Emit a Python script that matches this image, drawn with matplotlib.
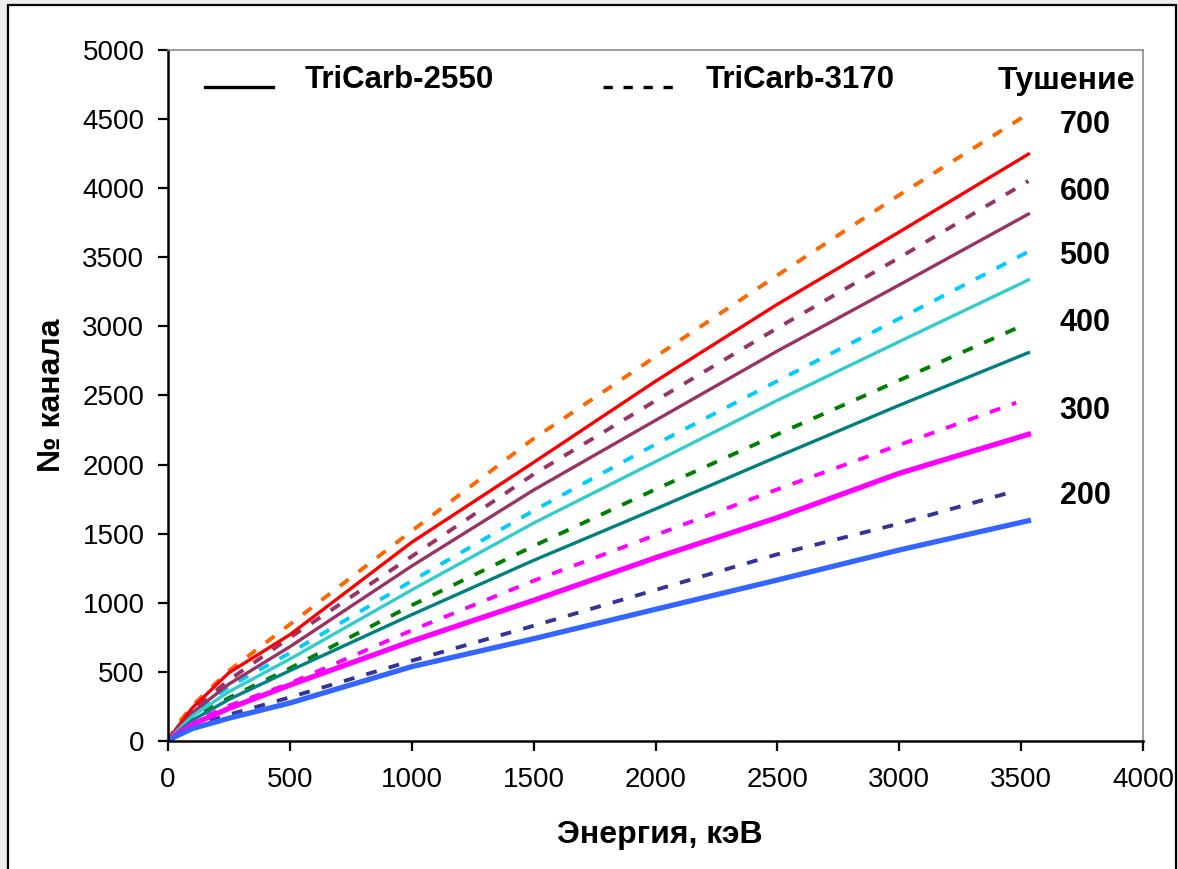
import matplotlib
matplotlib.use('Agg')
import matplotlib.pyplot as plt
from matplotlib.patches import Rectangle
from matplotlib.lines import Line2D

plt.rcParams['font.family'] = ['Liberation Sans', 'DejaVu Sans']

# energy points (keV)
energy = [0, 30, 100, 250, 500, 1000, 1500, 2000, 2500, 3000, 3530]
energy_short = [0, 30, 100, 250, 500, 1000, 1500, 2000, 2500, 3000, 3480]

# TriCarb-2550 (solid)
tc2550_700 = [0, 80, 240, 494, 769, 1438, 2016, 2603, 3160, 3683, 4247]
tc2550_600 = [0, 65, 205, 412, 682, 1266, 1816, 2320, 2822, 3300, 3813]
tc2550_500 = [0, 60, 180, 357, 593, 1093, 1577, 2021, 2465, 2890, 3336]
tc2550_400 = [0, 50, 150, 301, 509, 914, 1307, 1679, 2057, 2429, 2810]
tc2550_300 = [0, 42, 120, 236, 405, 723, 1018, 1326, 1616, 1937, 2219]
tc2550_200 = [0, 32, 90, 165, 275, 538, 740, 953, 1165, 1382, 1594]

# TriCarb-3170 (dashed)
tc3170_700 = [0, 100, 256, 509, 844, 1520, 2188, 2781, 3370, 3951, 4540]
tc3170_600 = [0, 75, 224, 441, 748, 1336, 1930, 2462, 2988, 3497, 4052]
tc3170_500 = [0, 70, 205, 393, 637, 1158, 1667, 2147, 2605, 3056, 3541]
tc3170_400 = [0, 55, 165, 313, 526, 982, 1411, 1821, 2219, 2610, 2986]
tc3170_300 = [0, 48, 135, 255, 417, 801, 1160, 1490, 1821, 2142, 2448]
tc3170_200 = [0, 38, 105, 190, 316, 581, 834, 1093, 1351, 1573, 1811]

quench_labels = ['700', '600', '500', '400', '300', '200']
label_y = [4457, 3972, 3509, 3025, 2388, 1773]

fig = plt.figure(figsize=(11.78, 8.69), dpi=100, facecolor='#ededed')
frame = Rectangle((8/1178, -0.05), (1176-8)/1178, 1.05 - 5/869,
                  transform=fig.transFigure, facecolor='white',
                  edgecolor='black', linewidth=1.6, zorder=-10)
fig.patches.append(frame)

ax = fig.add_axes([168/1178, 1-741/869, 975/1178, 691/869])
ax.set_facecolor('white')

solid = [(tc2550_700, '#ff0000', 2.4), (tc2550_600, '#993366', 2.4),
         (tc2550_500, '#33cccc', 2.4), (tc2550_400, '#008080', 2.4),
         (tc2550_300, '#ff00ff', 3.8), (tc2550_200, '#3366ff', 3.8)]
dashed = [(energy, tc3170_700, '#ff6600'), (energy, tc3170_600, '#993366'),
          (energy, tc3170_500, '#00ccff'), (energy_short, tc3170_400, '#008000'),
          (energy_short, tc3170_300, '#ff00ff'), (energy_short, tc3170_200, '#333399')]

for xs, ys, c in dashed:
    ax.plot(xs, ys, color=c, lw=2.8, linestyle=(0, (2.8, 3.2)),
            solid_capstyle='butt', dash_capstyle='butt')
for ys, c, lw in solid:
    ax.plot(energy, ys, color=c, lw=lw)

for lab, yy in zip(quench_labels, label_y):
    ax.text(3762, yy, lab, fontsize=22, fontweight='bold', ha='center', va='center')

# legend drawn by hand like the original
ax.add_line(Line2D([0.038, 0.108], [0.946, 0.946], transform=ax.transAxes,
                   color='black', lw=2.4))
ax.add_line(Line2D([0.446, 0.520], [0.946, 0.946], transform=ax.transAxes,
                   color='black', lw=2.4, linestyle=(0, (2.8, 3.2))))
ax.text(0.1405, 0.957, 'TriCarb-2550', transform=ax.transAxes, fontsize=22.5,
        fontweight='bold', va='center', ha='left')
ax.text(0.551, 0.957, 'TriCarb-3170', transform=ax.transAxes, fontsize=22.5,
        fontweight='bold', va='center', ha='left')
ax.text(0.992, 0.955, 'Тушение', transform=ax.transAxes, fontsize=23,
        fontweight='bold', va='center', ha='right')

ax.set_xlim(0, 4000)
ax.set_ylim(0, 5000)
ax.set_xticks(range(0, 4001, 500))
ax.set_yticks(range(0, 5001, 500))
ax.tick_params(direction='out', length=7, width=1.6, labelsize=20)
ax.tick_params(axis='y', pad=10)
ax.tick_params(axis='x', pad=12)

for s in ['left', 'bottom']:
    ax.spines[s].set_color('black')
    ax.spines[s].set_linewidth(1.8)
for s in ['top', 'right']:
    ax.spines[s].set_color('#8c8c8c')
    ax.spines[s].set_linewidth(1.2)

ax.set_xlabel('Энергия, кэВ', fontsize=23, fontweight='bold', va='center')
ax.xaxis.set_label_coords(0.504, -0.136)
ax.set_ylabel('№ канала', fontsize=23, fontweight='bold', va='center')
ax.yaxis.set_label_coords(-0.119, 0.501)

fig.savefig('out.png', dpi=100, facecolor=fig.get_facecolor())
